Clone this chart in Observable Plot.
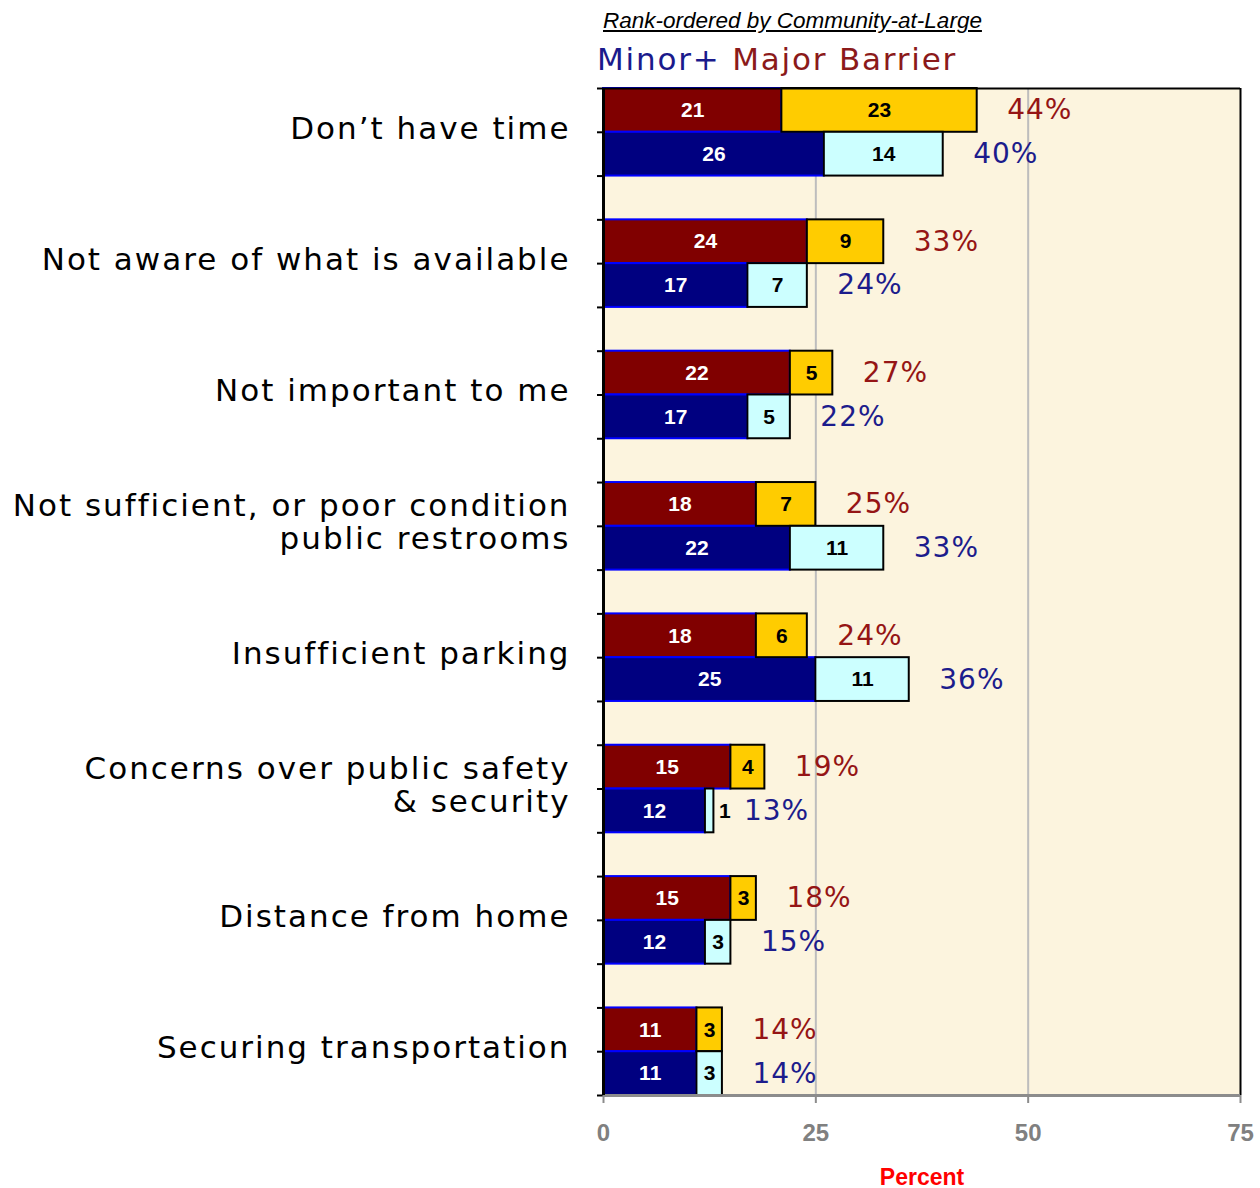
<!DOCTYPE html>
<html>
<head>
<meta charset="utf-8">
<script src="https://cdn.jsdelivr.net/npm/d3@7"></script>
<script src="https://cdn.jsdelivr.net/npm/@observablehq/plot@0.6"></script>
<style>
  body { margin: 0; background: #ffffff; }
  #wrap { position: relative; width: 1260px; }
  #header { position: relative; height: 80px; }
  #t1 { position: absolute; left: 603px; top: 8px; font-family: "Liberation Sans", Arial, sans-serif; font-style: italic; font-size: 22.5px; text-decoration: underline; color: #000; white-space: nowrap; }
  #t2 { position: absolute; left: 597px; top: 41px; font-family: "DejaVu Sans", sans-serif; font-size: 31px; letter-spacing: 1.8px; white-space: nowrap; }
  g[font-family="DejaVu Sans, Verdana, sans-serif"] { letter-spacing: 2px; }
  g[font-family="DejaVu Sans, Lucida Sans, sans-serif"] { letter-spacing: 1px; }
  g[aria-label="x-axis tick label"] { font-size: 24px; font-weight: bold; }
</style>
</head>
<body>
<div id="wrap">
  <div id="header">
    <div id="t1">Rank-ordered by Community-at-Large</div>
    <div id="t2"><span style="color:#1a1a8c">Minor+</span> <span style="color:#8b1a1a">Major Barrier</span></div>
  </div>
  <div id="chart"></div>
</div>
<script>
const categories = [
  "Don’t have time",
  "Not aware of what is available",
  "Not important to me",
  "Not sufficient, or poor condition\npublic restrooms",
  "Insufficient parking",
  "Concerns over public safety\n& security",
  "Distance from home",
  "Securing transportation"
];
// top bar (Community-at-Large): dark red + yellow
const topDark  = [21, 24, 22, 18, 18, 15, 15, 11];
const topLight = [23,  9,  5,  7,  6,  4,  3,  3];
const topTotal = [44, 33, 27, 25, 24, 19, 18, 14];
// bottom bar: navy + light cyan
const botDark  = [26, 17, 17, 22, 25, 12, 12, 11];
const botLight = [14,  7,  5, 11, 11,  1,  3,  3];
const botTotal = [40, 24, 22, 33, 36, 13, 15, 14];
const xTicks = [0, 25, 50, 75];

const SLOTS = categories.length * 3 - 1;

const segs = [];
const totals = [];
categories.forEach((c, i) => {
  const base = i * 3;
  segs.push({row: base,     x1: 0, x2: topDark[i], v: topDark[i], kind: "topDark"});
  segs.push({row: base,     x1: topDark[i], x2: topDark[i] + topLight[i], v: topLight[i], kind: "topLight"});
  segs.push({row: base + 1, x1: 0, x2: botDark[i], v: botDark[i], kind: "botDark"});
  segs.push({row: base + 1, x1: botDark[i], x2: botDark[i] + botLight[i], v: botLight[i], kind: "botLight"});
  totals.push({row: base, t: topTotal[i], kind: "top"});
  totals.push({row: base + 1, t: botTotal[i], kind: "bot"});
});
const labels = categories.map((c, i) => ({c, y: i * 3 + 1}));

const fills = {topDark: "#800000", topLight: "#FFCC00", botDark: "#000080", botLight: "#CCFFFF"};
const dark = segs.filter(d => d.kind.endsWith("Dark"));
const light = segs.filter(d => d.kind.endsWith("Light"));

const chart = Plot.plot({
  width: 1260,
  height: 1108,
  marginLeft: 603,
  marginRight: 20,
  marginTop: 8,
  marginBottom: 93,
  x: {domain: [0, 75]},
  y: {domain: [0, SLOTS], reverse: true},
  style: {background: "transparent"},
  marks: [
    Plot.frame({fill: "#FCF4DE", stroke: null}),
    Plot.ruleX([25, 50], {stroke: "#BDBDBD", strokeWidth: 2}),
    Plot.rectX(dark, {x1: "x1", x2: "x2", y1: d => d.row, y2: d => d.row + 1, fill: d => fills[d.kind], stroke: "#0000FF", strokeWidth: 2}),
    Plot.rectX(light, {x1: "x1", x2: "x2", y1: d => d.row, y2: d => d.row + 1, fill: d => fills[d.kind], stroke: "#000000", strokeWidth: 2}),
    Plot.text(segs.filter(d => d.v >= 2), {
      x: d => (d.x1 + d.x2) / 2, y: d => d.row + 0.5, text: d => String(d.v),
      fill: d => d.kind.endsWith("Dark") ? "#ffffff" : "#000000",
      fontWeight: "bold", fontSize: 21, fontFamily: "Liberation Sans, Arial, sans-serif"
    }),
    Plot.text(segs.filter(d => d.v < 2), {
      x: "x2", y: d => d.row + 0.5, text: d => String(d.v), dx: 5, textAnchor: "start",
      fill: "#000000", fontWeight: "bold", fontSize: 21, fontFamily: "Liberation Sans, Arial, sans-serif"
    }),
    Plot.text(totals, {
      x: "t", y: d => d.row + 0.5, text: d => d.t + "%", dx: 30, textAnchor: "start",
      fill: d => d.kind === "top" ? "#951515" : "#1C1C8C",
      fontSize: 28, fontFamily: "DejaVu Sans, Lucida Sans, sans-serif"
    }),
    Plot.text(labels, {
      x: 0, y: "y", text: "c", dx: -33, dy: -4, textAnchor: "end", lineAnchor: "middle",
      lineHeight: 1.05, fontSize: 31, fill: "#000000", fontFamily: "DejaVu Sans, Verdana, sans-serif"
    }),
    Plot.ruleY([0], {stroke: "#000000", strokeWidth: 2}),
    Plot.ruleX([75], {stroke: "#000000", strokeWidth: 2}),
    Plot.ruleY([SLOTS], {stroke: "#8C8C8C", strokeWidth: 3}),
    Plot.axisY({ticks: d3.range(0, SLOTS + 1), tickFormat: () => "", tickSize: 6, stroke: "#000000", strokeWidth: 2, label: null}),
    Plot.ruleX([0], {stroke: "#000000", strokeWidth: 3}),
    Plot.axisX({ticks: xTicks, tickSize: 8, tickPadding: 20, stroke: "#8C8C8C", strokeWidth: 2, fill: "#808080",
      fontSize: 24, fontWeight: "bold", fontFamily: "Liberation Sans, Arial, sans-serif", label: null}),
    Plot.text(["Percent"], {frameAnchor: "bottom", dy: 89, fill: "#FF0000", fontWeight: "bold", fontSize: 23,
      fontFamily: "Liberation Sans, Arial, sans-serif"})
  ]
});
document.getElementById("chart").appendChild(chart);
</script>
</body>
</html>
